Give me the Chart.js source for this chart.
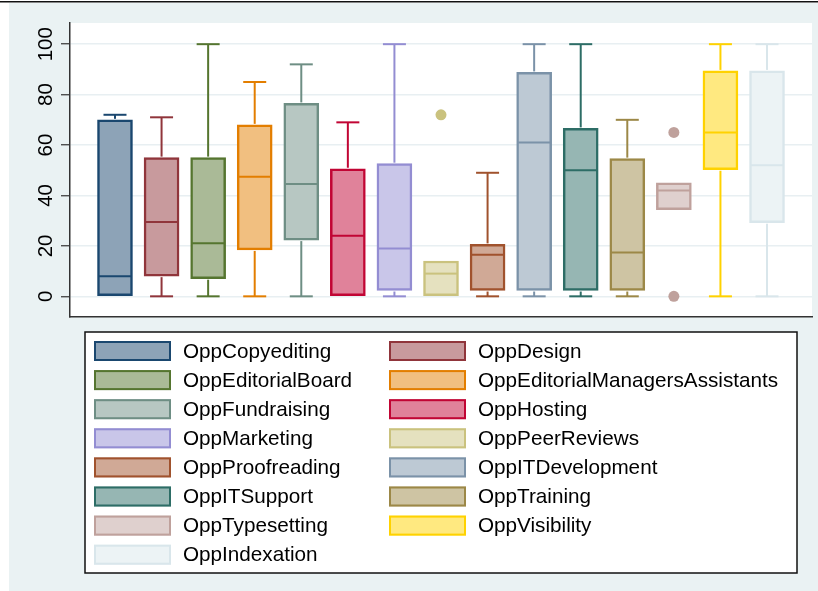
<!DOCTYPE html>
<html>
<head>
<meta charset="utf-8">
<script src="https://cdn.jsdelivr.net/npm/chart.js@4"></script>
<style>
  html, body { margin: 0; padding: 0; background: #fff; }
  #wrap { width: 818px; height: 591px; }
</style>
</head>
<body>
<div id="wrap"><canvas id="boxChart" width="818" height="591"></canvas></div>
<script>
// one box per survey item
var categories = [
  'OppCopyediting', 'OppDesign', 'OppEditorialBoard', 'OppEditorialManagersAssistants',
  'OppFundraising', 'OppHosting', 'OppMarketing', 'OppPeerReviews',
  'OppProofreading', 'OppITDevelopment', 'OppITSupport', 'OppTraining',
  'OppTypesetting', 'OppVisibility', 'OppIndexation'
];
var whiskerLow  = [0, 0, 0, 0, 0, 0, 0, 0, 0, 0, 0, 0, 34.4, 0, 0];
var quartile1   = [0, 8, 7, 18.4, 22.3, 0, 2.3, 0, 2.3, 2.3, 2.3, 2.3, 34.4, 50.2, 29.2];
var medians     = [8, 29.5, 21, 47.4, 44.5, 24, 19, 9, 16.5, 61, 50, 17.4, 42, 65, 52];
var quartile3   = [70, 55, 55, 68, 76.5, 50.6, 52.6, 14, 20.6, 88.8, 66.6, 54.6, 45, 89.4, 89.4];
var whiskerHigh = [72, 71, 100, 85, 92, 69, 100, 14, 49, 100, 100, 70, 45, 100, 100];

// outside values: box index and value
var outlierIndex  = [7, 12, 12];
var outlierValues = [72, 65, 0];

var yTicks = [0, 20, 40, 60, 80, 100];

// s2color line colours, boxes filled at half intensity
var lineColors = [
  '#1A476F', '#90353B', '#55752F', '#E37E00', '#6E8E84', '#C10534', '#938DD2', '#CAC27E',
  '#A0522D', '#7B92A8', '#2D6D66', '#9C8847', '#BFA19C', '#FFD200', '#D9E6EB'
];

function halfTone(hex) {
  var r = parseInt(hex.substr(1, 2), 16), g = parseInt(hex.substr(3, 2), 16), b = parseInt(hex.substr(5, 2), 16);
  return 'rgb(' + Math.round((r + 255) / 2) + ',' + Math.round((g + 255) / 2) + ',' + Math.round((b + 255) / 2) + ')';
}
var fillColors = lineColors.map(halfTone);

var FONT = '"Liberation Sans", Arial, sans-serif';

var backdrop = {
  id: 'backdrop',
  beforeDraw: function(chart) {
    var ctx = chart.ctx, a = chart.chartArea;
    ctx.save();
    ctx.fillStyle = '#fff';
    ctx.fillRect(0, 0, chart.width, chart.height);
    ctx.fillStyle = '#EAF2F3';
    ctx.fillRect(9, 3, chart.width - 9, chart.height - 3);
    ctx.fillStyle = '#111';
    ctx.fillRect(0, 1, chart.width, 1.5);
    ctx.fillStyle = '#fff';
    ctx.fillRect(a.left, a.top, a.right - a.left, a.bottom - a.top);
    ctx.restore();
  }
};

// whiskers, caps and median lines
var boxMarks = {
  id: 'boxMarks',
  afterDatasetsDraw: function(chart) {
    var ctx = chart.ctx, xs = chart.scales.x, ys = chart.scales.y;
    var half = 17, cap = 11.5;
    function seg(x1, y1, x2, y2) {
      ctx.beginPath(); ctx.moveTo(x1, y1); ctx.lineTo(x2, y2); ctx.stroke();
    }
    ctx.save();
    ctx.lineWidth = 2;
    categories.forEach(function(c, i) {
      var x = xs.getPixelForValue(i + 1);
      ctx.strokeStyle = lineColors[i];
      if (whiskerHigh[i] > quartile3[i]) {
        var yh = ys.getPixelForValue(whiskerHigh[i]);
        seg(x, ys.getPixelForValue(quartile3[i]) - 1, x, yh);
        seg(x - cap, yh, x + cap, yh);
      }
      if (whiskerLow[i] < quartile1[i]) {
        var yl = ys.getPixelForValue(whiskerLow[i]);
        seg(x, ys.getPixelForValue(quartile1[i]) + 1, x, yl);
        seg(x - cap, yl, x + cap, yl);
      }
      var ym = ys.getPixelForValue(medians[i]);
      seg(x - half + 1, ym, x + half - 1, ym);
    });
    ctx.restore();
  }
};

// rotated y tick labels and the two-column key
var labelsAndKey = {
  id: 'labelsAndKey',
  afterDraw: function(chart) {
    var ctx = chart.ctx, ys = chart.scales.y;
    ctx.save();
    ctx.fillStyle = '#000';
    ctx.font = '20.5px ' + FONT;
    ctx.textAlign = 'center';
    ctx.textBaseline = 'alphabetic';
    yTicks.forEach(function(v) {
      ctx.save();
      ctx.translate(51.5, ys.getPixelForValue(v));
      ctx.rotate(-Math.PI / 2);
      ctx.fillText(String(v), 0, 0);
      ctx.restore();
    });

    var left = 85, top = 332, right = 797, bottom = 573;
    ctx.fillStyle = '#fff';
    ctx.fillRect(left, top, right - left, bottom - top);
    ctx.strokeStyle = '#111';
    ctx.lineWidth = 1.5;
    ctx.strokeRect(left, top, right - left, bottom - top);

    var colX = [94, 389], textX = [183, 478];
    var rowTop = 341, rowStep = 29.1, sw = 77, sh = 20;
    ctx.font = '20.7px ' + FONT;
    ctx.textAlign = 'left';
    ctx.textBaseline = 'middle';
    ctx.lineWidth = 2;
    categories.forEach(function(name, i) {
      var col = i % 2, row = Math.floor(i / 2);
      var y = rowTop + row * rowStep;
      ctx.fillStyle = fillColors[i];
      ctx.fillRect(colX[col], y, sw, sh);
      ctx.strokeStyle = lineColors[i];
      ctx.strokeRect(colX[col] + 1, y + 1, sw - 2, sh - 2);
      ctx.fillStyle = '#000';
      ctx.fillText(name, textX[col], y + sh / 2 + 1);
    });
    ctx.restore();
  }
};

var ctx = document.getElementById('boxChart').getContext('2d');
new Chart(ctx, {
  type: 'bar',
  data: {
    datasets: [
      {
        type: 'bar',
        data: categories.map(function(c, i) { return { x: i + 1, y: [quartile1[i], quartile3[i]] }; }),
        backgroundColor: fillColors,
        borderColor: lineColors,
        borderWidth: 2.5,
        borderSkipped: false,
        barThickness: 35,
        order: 2
      },
      {
        type: 'scatter',
        data: outlierIndex.map(function(k, j) { return { x: k + 1, y: outlierValues[j] }; }),
        backgroundColor: outlierIndex.map(function(k) { return lineColors[k]; }),
        borderWidth: 0,
        pointRadius: 5.5,
        order: 1
      }
    ]
  },
  options: {
    responsive: false,
    animation: false,
    layout: { padding: { top: 23, right: 6, bottom: 274, left: 0 } },
    plugins: { legend: { display: false }, tooltip: { enabled: false } },
    scales: {
      x: {
        type: 'linear',
        min: 0.034,
        max: 15.966,
        offset: false,
        grid: { display: false, drawTicks: false },
        ticks: { display: false },
        border: { color: '#333', width: 1.5 },
        afterFit: function(s) { s.height = 0; }
      },
      y: {
        min: -8.2,
        max: 108.4,
        afterBuildTicks: function(s) { s.ticks = yTicks.map(function(v) { return { value: v }; }); },
        ticks: { display: false },
        grid: { color: '#E8EFF2', lineWidth: 1.5, tickLength: 9, tickColor: '#333', tickWidth: 1.2 },
        border: { color: '#333', width: 1.5 },
        afterFit: function(s) { s.width = 70; }
      }
    }
  },
  plugins: [backdrop, boxMarks, labelsAndKey]
});
</script>
</body>
</html>
